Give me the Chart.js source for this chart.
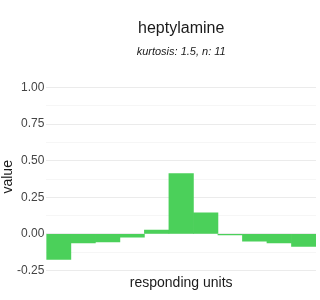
<!DOCTYPE html>
<html><head><meta charset="utf-8">
<script src="https://cdn.jsdelivr.net/npm/chart.js@4/dist/chart.umd.min.js"></script>
<style>html,body{margin:0;padding:0;background:#fff}#w{width:320px;height:300px}</style>
</head><body><div id="w"><canvas id="c"></canvas></div>
<script>
const categories = ['1','2','3','4','5','6','7','8','9','10','11'];
const values = [-0.174, -0.062, -0.055, -0.023, 0.027, 0.412, 0.144, -0.007, -0.05, -0.062, -0.085];
const tickValues = [-0.25, -0.125, 0, 0.125, 0.25, 0.375, 0.5, 0.625, 0.75, 0.875, 1.0];
const labeledTicks = [-0.25, 0, 0.25, 0.5, 0.75, 1.0];

new Chart(document.getElementById('c'), {
  type: 'bar',
  data: { labels: categories, datasets: [{ data: values, backgroundColor: '#4bd05a', borderWidth: 0, barPercentage: 1, categoryPercentage: 1 }] },
  options: {
    responsive: true, maintainAspectRatio: false, animation: false,
    layout: { padding: { left: 1, right: 4, top: 0, bottom: 7 } },
    plugins: {
      legend: { display: false }, tooltip: { enabled: false },
      title: { display: true, fullSize: false, text: 'heptylamine', color: '#1a1a1a', font: { family: 'Liberation Sans', size: 16, weight: 'normal' }, padding: { top: 19, bottom: 7 } },
      subtitle: { display: true, fullSize: false, text: 'kurtosis: 1.5, n: 11', color: '#1a1a1a', font: { family: 'Liberation Sans', size: 11, style: 'italic' }, padding: { top: 0, bottom: 20 } }
    },
    scales: {
      x: {
        offset: true,
        grid: { display: false, drawTicks: false },
        border: { display: false },
        ticks: { display: false },
        title: { display: true, text: 'responding units', color: '#1a1a1a', font: { family: 'Liberation Sans', size: 14 }, padding: { top: 0, bottom: 1 } }
      },
      y: {
        min: -0.282, max: 1.0625,
        afterBuildTicks: (ax) => { ax.ticks = tickValues.map(v => ({ value: v })); },
        grid: { drawTicks: false, color: (ctx) => labeledTicks.includes(ctx.tick && ctx.tick.value) ? '#ebebeb' : '#f6f6f6', lineWidth: 1 },
        border: { display: false },
        ticks: { padding: 2, color: '#444444', font: { family: 'Liberation Sans', size: 12 },
          callback: (v) => labeledTicks.includes(v) ? v.toFixed(2) : '' },
        title: { display: true, text: 'value', color: '#1a1a1a', font: { family: 'Liberation Sans', size: 14, lineHeight: 1 }, padding: { top: 0, bottom: 0 } }
      }
    }
  }
});
</script></body></html>
